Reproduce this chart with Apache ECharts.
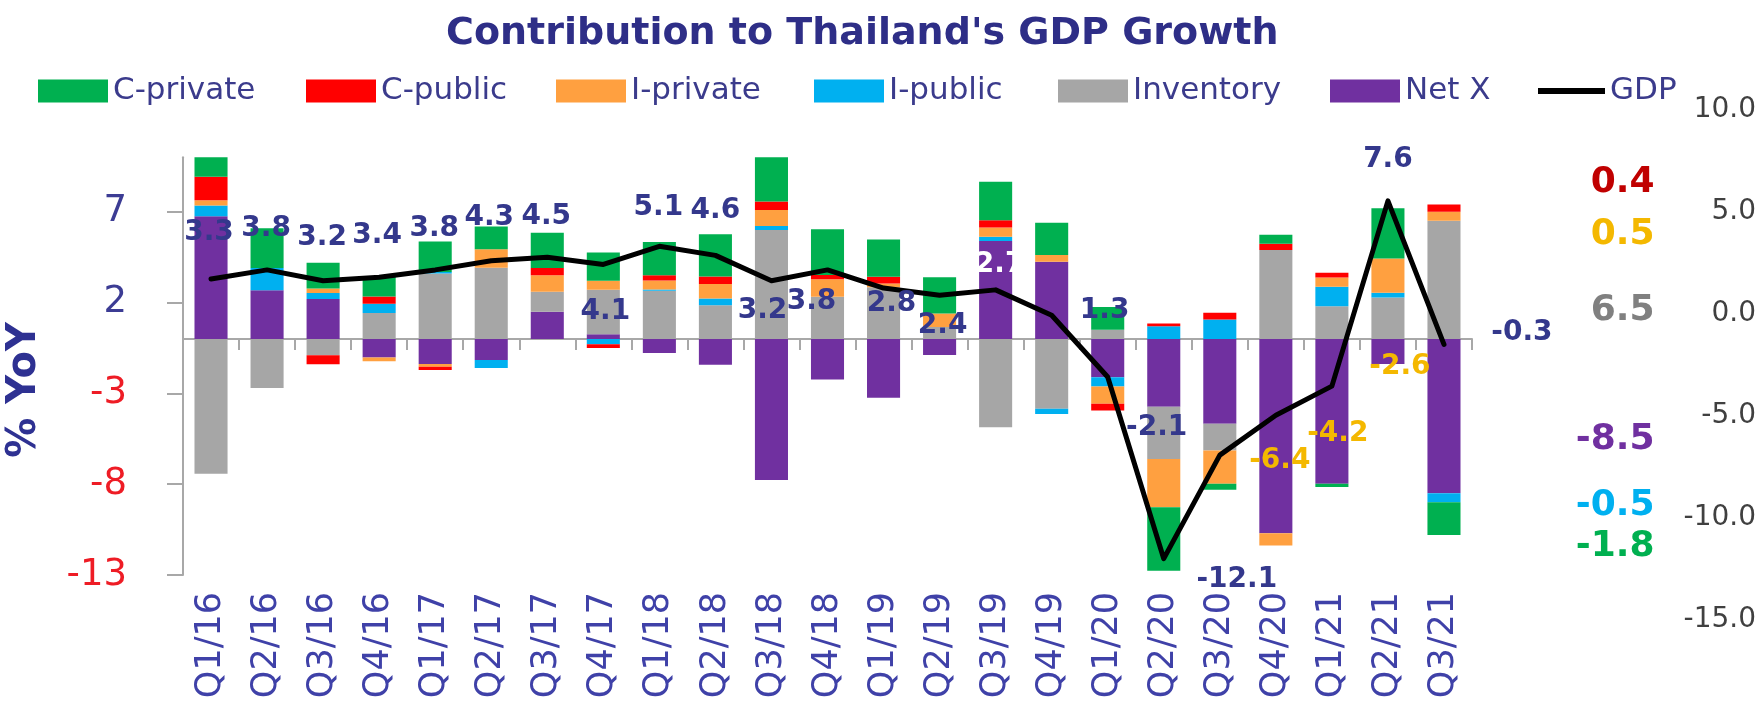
<!DOCTYPE html>
<html>
<head>
<meta charset="utf-8">
<title>Contribution to Thailand's GDP Growth</title>
<script src="https://cdn.jsdelivr.net/npm/echarts@6/dist/echarts.min.js"></script>
<style>
  html, body { margin: 0; padding: 0; background: #ffffff; }
  #chart { width: 1759px; height: 724px; }
</style>
</head>
<body>
<div id="chart"></div>
<script>
// Quarterly contributions to Thai GDP growth (percentage points, % YoY)
const quarters = ['Q1/16','Q2/16','Q3/16','Q4/16','Q1/17','Q2/17','Q3/17','Q4/17',
                  'Q1/18','Q2/18','Q3/18','Q4/18','Q1/19','Q2/19','Q3/19','Q4/19',
                  'Q1/20','Q2/20','Q3/20','Q4/20','Q1/21','Q2/21','Q3/21'];

const netX      = [6.76, 2.68, 2.2, -1.03, -1.38, -1.16, 1.49, 0.26, -0.78, -1.42, -7.77, -2.23,
                   -3.24, -0.88, 5.39, 4.25, -2.11, -3.73, -4.67, -10.7, -7.98, -1.38, -8.5];
const inventory = [-7.43, -2.7, -0.9, 1.43, 3.6, 3.92, 1.1, 2.44, 2.65, 1.86, 6.0, 2.32,
                   2.85, 0.66, -4.86, -3.85, 0.51, -2.88, -1.47, 4.89, 1.8, 2.28, 6.5];
const iPublic   = [0.59, 1.23, 0.33, 0.51, 0.08, -0.44, 0, -0.3, 0.07, 0.37, 0.22, 0,
                   0, 0, 0.24, -0.28, -0.51, 0.7, 1.07, 0, 1.07, 0.26, -0.5];
const iPrivate  = [0.29, 0, 0.24, -0.2, -0.15, 1.02, 0.92, 0.5, 0.5, 0.8, 0.88, 0.96,
                   0.2, 0.74, 0.51, 0.37, -0.95, -2.66, -1.84, -0.68, 0.51, 1.89, 0.5];
const cPublic   = [1.29, 0, -0.5, 0.4, -0.18, 0, 0.4, -0.2, 0.28, 0.4, 0.46, 0.24,
                   0.37, 0, 0.4, 0, -0.37, 0.15, 0.37, 0.35, 0.26, 0, 0.4];
const cPrivate  = [1.4, 2.19, 1.42, 1.07, 1.69, 1.25, 1.93, 1.56, 1.84, 2.33, 2.6, 2.52,
                   2.06, 1.99, 2.11, 1.78, 1.25, -3.49, -0.33, 0.5, -0.18, 2.76, -1.8];
const gdp       = [3.3, 3.8, 3.2, 3.4, 3.8, 4.3, 4.5, 4.1, 5.1, 4.6, 3.2, 3.8,
                   2.8, 2.4, 2.7, 1.3, -2.1, -12.1, -6.4, -4.2, -2.6, 7.6, -0.3];

// Tick labels
const leftTicks = [-13, -8, -3, 2, 7];
const rightTicks = [-15, -10, -5, 0, 5, 10];

// ---- styling ----
const FONT = "'DejaVu Sans', Verdana, sans-serif";
const NAVY = '#34388c';
const GOLD = '#f4b800';
const AXIS_GREY = '#a8a8a8';

// GDP label placement relative to each point [dx, dy] and colour
const gdpLabelOffsets = [[-2,-46],[-1,-41],[-1,-43],[-2,-41],[-1,-41],[-2,-43],[-1,-40],[2,47],
                         [-1,-39],[0,-45],[-9,30],[-16,32],[8,16],[3,30],[4,-25],[53,-5],
                         [49,51],[73,21],[60,6],[62,19],[68,-19],[0,-41],[78,-12]];
const gdpLabelColors = quarters.map((q, i) =>
  i === 14 ? '#ffffff' : (i >= 18 && i <= 20 ? GOLD : NAVY));

// Bar components, bottom of stack first; the last quarter gets a value tag on the right
const components = [
  { name: 'Net X',     values: netX,      color: '#7030a0', tagColor: '#7030a0', tagDy: 24 },
  { name: 'Inventory', values: inventory, color: '#a6a6a6', tagColor: '#808080', tagDy: 31 },
  { name: 'I-public',  values: iPublic,   color: '#00b0f0', tagColor: '#00b0f0', tagDy: 8 },
  { name: 'I-private', values: iPrivate,  color: '#ffa040', tagColor: GOLD,      tagDy: 18 },
  { name: 'C-public',  values: cPublic,   color: '#ff0000', tagColor: '#c00000', tagDy: -26 },
  { name: 'C-private', values: cPrivate,  color: '#00b050', tagColor: '#00b050', tagDy: 28 }
];

const barSeries = components.map(c => ({
  name: c.name,
  type: 'bar',
  stack: 'gdp',
  xAxisIndex: 0,
  yAxisIndex: 0,
  barWidth: '59%',
  itemStyle: { color: c.color },
  data: c.values.map((v, i) => i === c.values.length - 1 ? {
    value: v,
    label: {
      show: true, position: 'right', distance: 0, align: 'right', verticalAlign: 'middle',
      offset: [194, c.tagDy],
      formatter: p => p.value.toFixed(1),
      color: c.tagColor, fontSize: 36, fontWeight: 'bold', fontFamily: FONT
    }
  } : v)
}));

const gdpSeries = {
  name: 'GDP',
  type: 'line',
  xAxisIndex: 0,
  yAxisIndex: 0,
  smooth: false,
  symbol: 'circle',
  symbolSize: 1,
  z: 5,
  lineStyle: { color: '#000000', width: 5, join: 'round', cap: 'round' },
  itemStyle: { color: '#000000' },
  label: {
    show: true, position: 'inside',
    formatter: p => p.value.toFixed(1),
    fontSize: 28, fontWeight: 'bold', fontFamily: FONT
  },
  data: gdp.map((v, i) => ({
    value: v,
    label: { offset: gdpLabelOffsets[i], color: gdpLabelColors[i] }
  }))
};

const legendPlaces = [['C-private', 38], ['C-public', 306], ['I-private', 556],
                      ['I-public', 814], ['Inventory', 1058], ['Net X', 1330]];
const legendText = { fontSize: 31, color: '#3b3b8c', fontFamily: FONT, lineHeight: 34 };
const legends = legendPlaces.map(([name, x]) => ({
  data: [{ name: name, icon: 'rect' }], left: x, top: 74, padding: 0,
  itemWidth: 70, itemHeight: 23, selectedMode: false, textStyle: legendText
})).concat([{
  data: [{ name: 'GDP', icon: 'rect' }], left: 1538, top: 74, padding: 0,
  itemWidth: 67, itemHeight: 6, selectedMode: false, textStyle: legendText
}]);

const option = {
  animation: false,
  backgroundColor: '#ffffff',
  title: {
    text: "Contribution to Thailand's GDP Growth",
    left: 446, top: 15, padding: 0,
    textStyle: { fontSize: 38, fontWeight: 'bold', color: '#2e2e87', fontFamily: FONT }
  },
  legend: legends,
  grid: [
    { left: 183, right: 287, top: 157.3, bottom: 149 },
    { left: 183, right: 2, top: 110, bottom: 104 }
  ],
  xAxis: [
    { // zero line with category ticks
      type: 'category', gridIndex: 0, data: quarters, position: 'bottom',
      axisLine: { show: true, onZero: true, lineStyle: { color: AXIS_GREY, width: 2 } },
      axisTick: { show: true, length: 11, lineStyle: { color: AXIS_GREY, width: 2 } },
      axisLabel: { show: false },
      splitLine: { show: false }
    },
    { // category names along the bottom
      type: 'category', gridIndex: 0, data: quarters, position: 'bottom',
      axisLine: { show: false, onZero: false },
      axisTick: { show: false },
      axisLabel: { rotate: 90, margin: 17, fontSize: 35, color: '#3f41a8', fontFamily: FONT, interval: 0 },
      splitLine: { show: false }
    },
    { type: 'value', gridIndex: 1, min: 0, max: 1, show: false }
  ],
  yAxis: [
    {
      type: 'value', gridIndex: 0, min: -13, max: 10,
      axisLine: { show: true, lineStyle: { color: AXIS_GREY, width: 2 } },
      axisTick: { show: true, length: 16, customValues: leftTicks, lineStyle: { color: AXIS_GREY, width: 2 } },
      axisLabel: {
        customValues: leftTicks, margin: 56, fontSize: 37, fontFamily: FONT,
        color: v => (Number(v) < 0 ? '#ee1c25' : '#3c3c94')
      },
      splitLine: { show: false }
    },
    {
      type: 'value', gridIndex: 1, position: 'right', min: rightTicks[0], max: rightTicks[rightTicks.length - 1], interval: 5,
      axisLine: { show: false }, axisTick: { show: false }, splitLine: { show: false },
      axisLabel: { align: 'right', margin: 0, fontSize: 28, color: '#404040', fontFamily: FONT,
                   formatter: v => Number(v).toFixed(1) }
    }
  ],
  graphic: [{
    type: 'text', x: 25, y: 390, rotation: Math.PI / 2,
    style: { text: '% YoY', fill: '#2e3192', font: "bold 40px 'DejaVu Sans', Verdana, sans-serif",
             textAlign: 'center', textVerticalAlign: 'middle' }
  }],
  series: barSeries.concat([gdpSeries])
};

const chart = echarts.init(document.getElementById('chart'), null, { renderer: 'canvas' });
chart.setOption(option);
</script>
</body>
</html>
